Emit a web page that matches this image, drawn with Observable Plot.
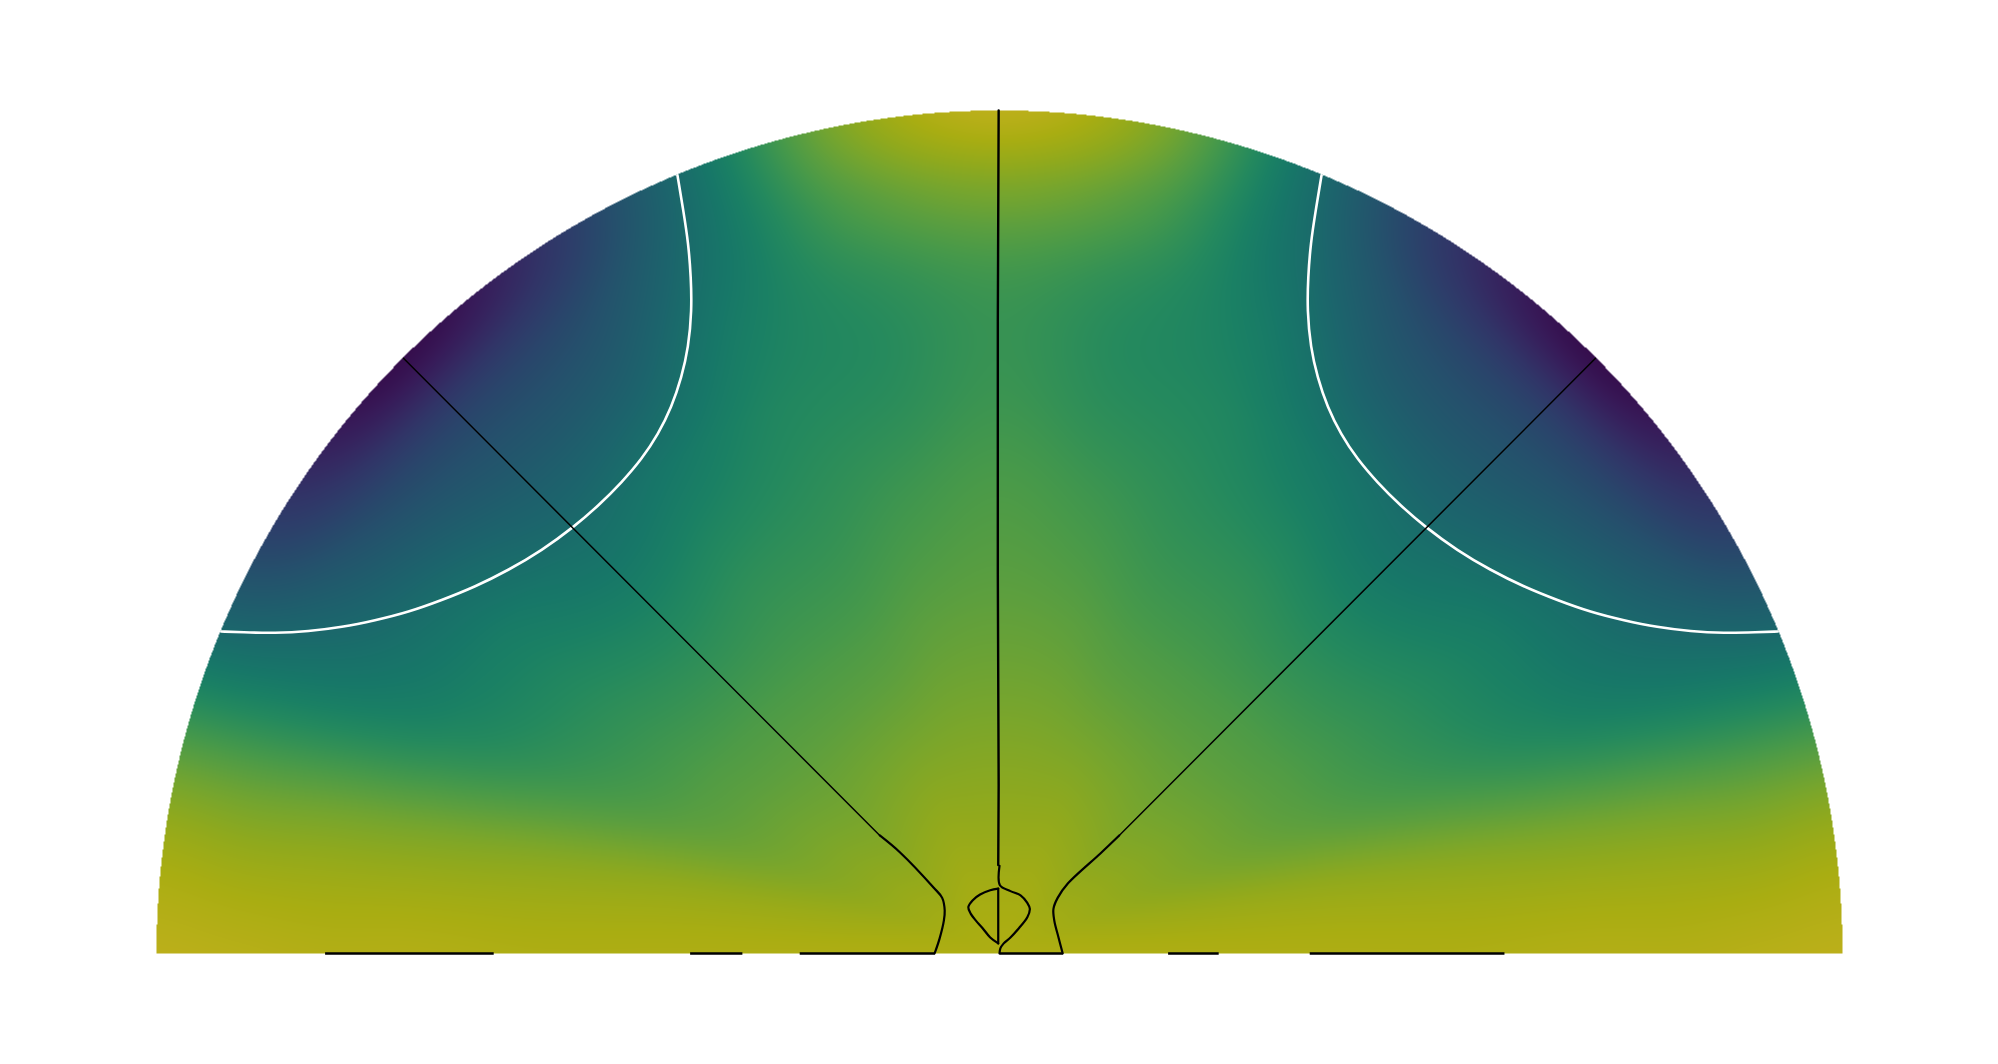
<!DOCTYPE html>
<html><head><meta charset="utf-8">
<script src="https://cdn.jsdelivr.net/npm/d3@7"></script>
<script src="https://cdn.jsdelivr.net/npm/@observablehq/plot@0.6"></script>
<style>html,body{margin:0;padding:0;background:#fff;} svg{display:block}</style>
</head><body><div id="chart"></div>
<script>
// Polar sample grid of the field (viridis position 0..1)
const radii = [0, 0.2, 0.4, 0.55, 0.7, 0.8, 0.9, 1.0];
const anglesDeg = [0, 11.25, 22.5, 33.75, 45, 56.25, 67.5, 78.75, 90, 101.25, 112.5, 123.75, 135, 146.25, 157.5, 168.75, 180];
const fieldValues = [
  [0.96, 0.96, 0.96, 0.96, 0.97, 0.97, 0.98, 0.99],
  [0.96, 0.93, 0.91, 0.89, 0.87, 0.86, 0.85, 0.86],
  [0.96, 0.89, 0.80, 0.72, 0.63, 0.57, 0.52, 0.47],
  [0.96, 0.88, 0.77, 0.67, 0.57, 0.47, 0.34, 0.18],
  [0.96, 0.87, 0.76, 0.64, 0.50, 0.40, 0.28, 0.05],
  [0.96, 0.88, 0.76, 0.67, 0.55, 0.43, 0.32, 0.18],
  [0.96, 0.89, 0.77, 0.69, 0.63, 0.58, 0.52, 0.48],
  [0.96, 0.89, 0.80, 0.73, 0.66, 0.67, 0.76, 0.86],
  [0.96, 0.89, 0.81, 0.76, 0.71, 0.73, 0.85, 0.99],
  [0.96, 0.89, 0.80, 0.73, 0.66, 0.67, 0.76, 0.86],
  [0.96, 0.89, 0.77, 0.69, 0.63, 0.58, 0.52, 0.48],
  [0.96, 0.88, 0.76, 0.67, 0.55, 0.43, 0.32, 0.18],
  [0.96, 0.87, 0.76, 0.64, 0.50, 0.40, 0.28, 0.05],
  [0.96, 0.88, 0.77, 0.67, 0.57, 0.47, 0.34, 0.18],
  [0.96, 0.89, 0.80, 0.72, 0.63, 0.57, 0.52, 0.47],
  [0.96, 0.93, 0.91, 0.89, 0.87, 0.86, 0.85, 0.86],
  [0.96, 0.96, 0.96, 0.96, 0.97, 0.97, 0.98, 0.99]
];

// White level curves (x, y in units of the disk radius)
const whiteRight = [
  [0.382,0.923],[0.375,0.881],[0.369,0.842],[0.366,0.802],[0.365,0.763],[0.369,0.719],
  [0.377,0.684],[0.389,0.648],[0.405,0.616],[0.424,0.587],[0.448,0.559],[0.476,0.531],
  [0.505,0.506],[0.543,0.478],[0.582,0.455],[0.622,0.435],[0.662,0.419],[0.701,0.405],
  [0.741,0.395],[0.780,0.387],[0.820,0.382],[0.859,0.380],[0.899,0.381],[0.923,0.382]
];
const whiteLeft = [
  [-0.382,0.923],[-0.375,0.881],[-0.369,0.842],[-0.366,0.802],[-0.365,0.763],[-0.369,0.719],
  [-0.377,0.684],[-0.389,0.648],[-0.405,0.616],[-0.424,0.587],[-0.448,0.559],[-0.476,0.531],
  [-0.505,0.506],[-0.543,0.478],[-0.582,0.455],[-0.622,0.435],[-0.662,0.419],[-0.701,0.405],
  [-0.741,0.395],[-0.780,0.387],[-0.820,0.382],[-0.859,0.380],[-0.899,0.381],[-0.923,0.382]
];

// Black lines
const leftDiagonal = [[-0.707,0.706],[-0.142,0.140]];
const leftDiagonalFoot = [
  [-0.142,0.140],[-0.117,0.119],[-0.078,0.078],[-0.068,0.066],[-0.065,0.051],
  [-0.066,0.039],[-0.071,0.018],[-0.077,0.0]
];
const rightDiagonal = [[0.707,0.706],[0.142,0.140]];
const rightDiagonalFoot = [
  [0.142,0.140],[0.120,0.119],[0.081,0.083],[0.069,0.066],[0.064,0.053],
  [0.065,0.039],[0.070,0.019],[0.075,0.0]
];
const verticalLine = [[-0.001,1.0],[-0.002,0.75],[-0.002,0.45],[-0.001,0.2],[-0.0015,0.105]];
const centerCurve = [
  [0.0,0.104],[0.0005,0.081],[0.013,0.074],[0.025,0.069],[0.033,0.060],[0.036,0.053],
  [0.033,0.043],[0.023,0.030],[0.013,0.019],[0.005,0.012],[0.001,0.006],[0.0,0.0]
];
const centerLoop = [
  [-0.0015,0.077],[-0.011,0.075],[-0.023,0.070],[-0.032,0.063],[-0.037,0.055],[-0.034,0.047],
  [-0.028,0.039],[-0.020,0.030],[-0.011,0.019],[-0.0015,0.012]
];
const loopChord = [[-0.0015,0.077],[-0.0015,0.012]];
const bottomSegments = [[-0.800,-0.600],[-0.367,-0.305],[-0.237,-0.077],[0.0,0.075],[0.200,0.260],[0.368,0.599]];

// --- field lookup (cubic interpolation on the polar grid) ---
function cr(p0, p1, p2, p3, t) {
  return 0.5 * (2*p1 + (-p0 + p2)*t + (2*p0 - 5*p1 + 4*p2 - p3)*t*t + (-p0 + 3*p1 - 3*p2 + p3)*t*t*t);
}
function fracIndex(arr, v) {
  let i = d3.bisectRight(arr, v) - 1;
  i = Math.max(0, Math.min(arr.length - 2, i));
  return i + (v - arr[i]) / (arr[i+1] - arr[i]);
}
function grid(j, i) {
  j = Math.max(0, Math.min(anglesDeg.length - 1, j));
  i = Math.max(0, Math.min(radii.length - 1, i));
  return fieldValues[j][i];
}
function fieldAt(x, y) {
  if (y < 0) return NaN;
  const r = Math.hypot(x, y);
  if (r > 1) return NaN;
  let th = Math.atan2(y, x) * 180 / Math.PI;
  th = Math.max(0, Math.min(180, th));
  const fj = fracIndex(anglesDeg, th), fi = fracIndex(radii, r);
  const j = Math.floor(Math.min(fj, anglesDeg.length - 1.0001)), i = Math.floor(Math.min(fi, radii.length - 1.0001));
  const u = fj - j, v = fi - i;
  const rows = [];
  for (let dj = -1; dj <= 2; dj++) {
    rows.push(cr(grid(j+dj,i-1), grid(j+dj,i), grid(j+dj,i+1), grid(j+dj,i+2), v));
  }
  return Math.max(0, Math.min(1, cr(rows[0], rows[1], rows[2], rows[3], u)));
}

const shade = 0.76;
const stops = d3.range(0, 1.0001, 0.05);
const stopColors = stops.map(t => {
  const c = d3.rgb(d3.interpolateViridis(t));
  return d3.rgb(c.r*shade, c.g*shade, c.b*shade).formatHex();
});

const toPts = a => a.map(([x, y]) => ({x, y}));

const chart = Plot.plot({
  width: 1998,
  height: 1064,
  marginLeft: 156, marginRight: 156, marginTop: 110, marginBottom: 111,
  x: {domain: [-1, 1], axis: null},
  y: {domain: [0, 1], axis: null},
  color: {type: "linear", domain: stops, range: stopColors, clamp: true},
  style: {background: "white"},
  marks: [
    Plot.raster({fill: fieldAt, x1: -1, x2: 1, y1: 0, y2: 1, pixelSize: 1}),
    Plot.line(toPts(whiteLeft), {x: "x", y: "y", stroke: "white", strokeWidth: 2.6, curve: "basis"}),
    Plot.line(toPts(whiteRight), {x: "x", y: "y", stroke: "white", strokeWidth: 2.6, curve: "basis"}),
    Plot.line(toPts(leftDiagonal), {x: "x", y: "y", stroke: "black", strokeWidth: 1.5}),
    Plot.line(toPts(rightDiagonal), {x: "x", y: "y", stroke: "black", strokeWidth: 1.5}),
    Plot.line(toPts(leftDiagonalFoot), {x: "x", y: "y", stroke: "black", strokeWidth: 2.2, curve: "catmull-rom"}),
    Plot.line(toPts(rightDiagonalFoot), {x: "x", y: "y", stroke: "black", strokeWidth: 2.2, curve: "catmull-rom"}),
    Plot.line(toPts(verticalLine), {x: "x", y: "y", stroke: "black", strokeWidth: 2.4}),
    Plot.line(toPts(centerCurve), {x: "x", y: "y", stroke: "black", strokeWidth: 2.2, curve: "catmull-rom"}),
    Plot.line(toPts(centerLoop), {x: "x", y: "y", stroke: "black", strokeWidth: 2.2, curve: "catmull-rom"}),
    Plot.line(toPts(loopChord), {x: "x", y: "y", stroke: "black", strokeWidth: 2.2}),
    Plot.link(bottomSegments, {x1: d => d[0], x2: d => d[1], y1: 0, y2: 0, stroke: "black", strokeWidth: 2.6})
  ]
});
document.getElementById("chart").appendChild(chart);
</script>
</body></html>
